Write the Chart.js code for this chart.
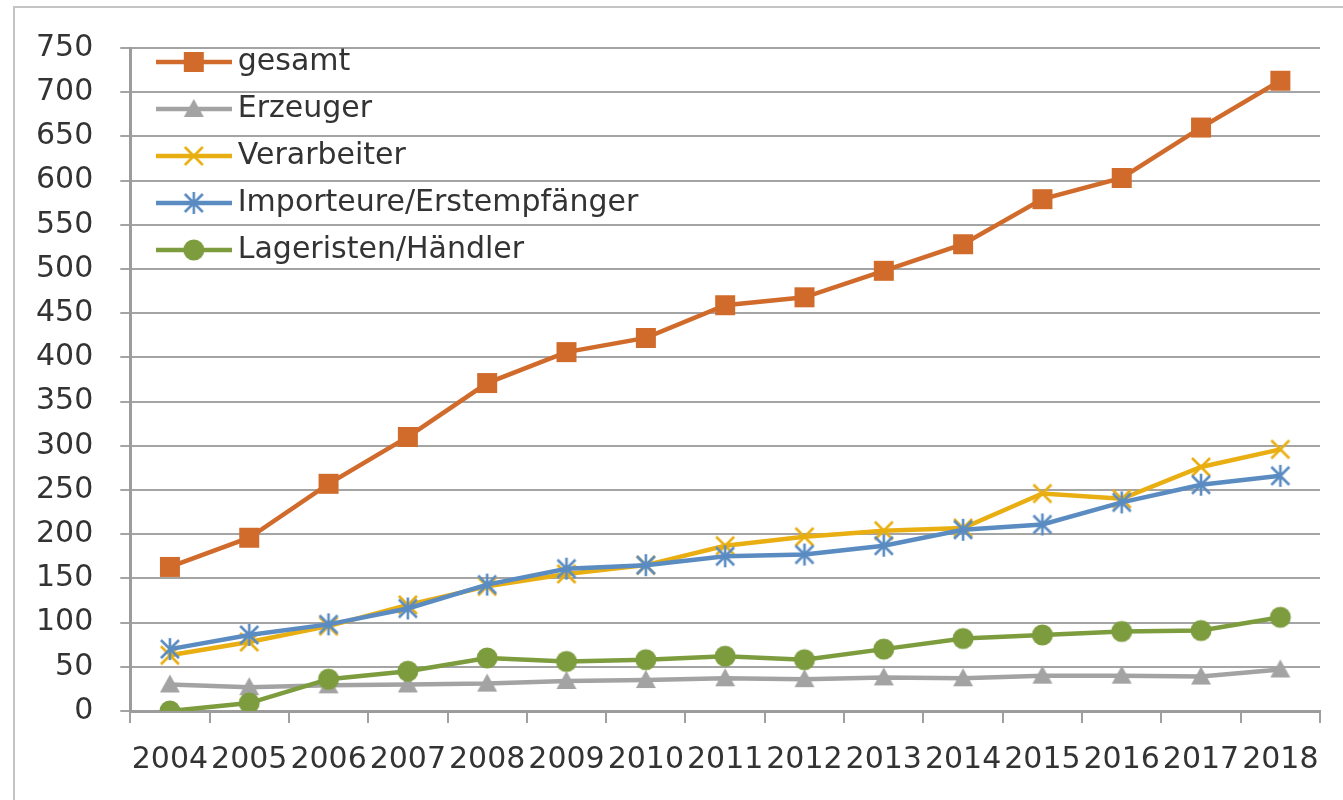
<!DOCTYPE html>
<html>
<head>
<meta charset="utf-8">
<script src="https://cdn.jsdelivr.net/npm/chart.js@4.4.0/dist/chart.umd.min.js"></script>
<style>
  html, body { margin: 0; padding: 0; background: #ffffff; }
  #wrap { position: relative; width: 1343px; height: 800px; }
  #frame { position: absolute; left: 13px; top: 6px; right: 0; bottom: 0;
           border-left: 2px solid #c4c4c4; border-top: 2px solid #c4c4c4; }
  #c { position: absolute; left: 0; top: 0; }
</style>
</head>
<body>
<div id="wrap">
  <div id="frame"></div>
  <canvas id="c" width="1343" height="800"></canvas>
</div>
<script>
// ---- data ----
const years = ['2004','2005','2006','2007','2008','2009','2010','2011','2012','2013','2014','2015','2016','2017','2018'];
const seriesNames = ['gesamt', 'Erzeuger', 'Verarbeiter', 'Importeure/Erstempfänger', 'Lageristen/Händler'];
const gesamt      = [163, 196, 257, 310, 371, 406, 422, 459, 468, 498, 528, 579, 603, 660, 713];
const erzeuger    = [30, 27, 29, 30, 31, 34, 35, 37, 36, 38, 37, 40, 40, 39, 47];
const verarbeiter = [63, 78, 96, 120, 141, 155, 165, 187, 197, 204, 207, 246, 240, 276, 296];
const importeure  = [70, 86, 98, 116, 143, 161, 165, 175, 177, 187, 205, 211, 236, 256, 266];
const lageristen  = [0, 9, 36, 45, 60, 56, 58, 62, 58, 70, 82, 86, 90, 91, 106];
const yMin = 0, yMax = 750, yStep = 50;

// ---- styles ----
const colors  = ['#D06B2C', '#A3A3A3', '#E8AE12', '#5A8CC2', '#7C9C3E'];
const markers = ['square', 'triangle', 'x', 'star', 'circle'];
const FONT = 'DejaVu Sans';
const FS = 30;
const TEXT = '#333333';

function drawMarker(ctx, type, x, y, color) {
  ctx.save();
  ctx.fillStyle = color; ctx.strokeStyle = color;
  ctx.lineCap = 'butt';
  if (type === 'square') {
    ctx.fillRect(x - 10, y - 10, 20, 20);
  } else if (type === 'triangle') {
    ctx.beginPath();
    ctx.moveTo(x, y - 10); ctx.lineTo(x + 10, y + 8); ctx.lineTo(x - 10, y + 8);
    ctx.closePath(); ctx.fill();
  } else if (type === 'circle') {
    ctx.beginPath(); ctx.arc(x, y, 10.5, 0, Math.PI * 2); ctx.fill();
  } else if (type === 'x') {
    ctx.lineWidth = 2.6;
    ctx.beginPath();
    ctx.moveTo(x - 9, y - 9); ctx.lineTo(x + 9, y + 9);
    ctx.moveTo(x + 9, y - 9); ctx.lineTo(x - 9, y + 9);
    ctx.stroke();
  } else if (type === 'star') {
    ctx.lineWidth = 2.6;
    ctx.beginPath();
    ctx.moveTo(x - 9, y - 9); ctx.lineTo(x + 9, y + 9);
    ctx.moveTo(x + 9, y - 9); ctx.lineTo(x - 9, y + 9);
    ctx.moveTo(x, y - 11); ctx.lineTo(x, y + 11);
    ctx.stroke();
  }
  ctx.restore();
}

function markerCanvas(type, color) {
  const c = document.createElement('canvas');
  c.width = 28; c.height = 28;
  drawMarker(c.getContext('2d'), type, 14, 14, color);
  return c;
}
function legendCanvas(type, color) {
  const c = document.createElement('canvas');
  c.width = 76; c.height = 28;
  const ctx = c.getContext('2d');
  ctx.strokeStyle = color; ctx.lineWidth = 4.5;
  ctx.beginPath(); ctx.moveTo(0, 14); ctx.lineTo(76, 14); ctx.stroke();
  drawMarker(ctx, type, 38, 14, color);
  return c;
}

const values = [gesamt, erzeuger, verarbeiter, importeure, lageristen];
const datasets = seriesNames.map((name, i) => ({
  label: name,
  data: values[i],
  borderColor: colors[i],
  backgroundColor: colors[i],
  borderWidth: 4.5,
  pointStyle: markerCanvas(markers[i], colors[i]),
  pointRadius: 10,
  tension: 0,
  fill: false,
  order: seriesNames.length - i
}));
const legendImgs = seriesNames.map((n, i) => legendCanvas(markers[i], colors[i]));

const legendShift = {
  id: 'legendShift',
  afterLayout(chart) {
    const l = chart.legend;
    if (!l) return;
    const dx = 17.5, dy = 30;
    l.left += dx; l.right += dx; l.top += dy; l.bottom += dy;
  }
};

Chart.defaults.font.family = FONT;
Chart.defaults.font.size = FS;
Chart.defaults.color = TEXT;

new Chart(document.getElementById('c'), {
  type: 'line',
  data: { labels: years, datasets },
  plugins: [legendShift],
  options: {
    responsive: false,
    animation: false,
    layout: { padding: { left: 9, right: 23, top: 48, bottom: 3 } },
    plugins: {
      tooltip: { enabled: false },
      legend: {
        position: 'chartArea',
        align: 'start',
        labels: {
          usePointStyle: true,
          pointStyleWidth: 58,
          padding: 17,
          color: TEXT,
          font: { family: FONT, size: FS },
          generateLabels: (chart) => chart.data.datasets.map((ds, i) => ({
            text: ds.label,
            fillStyle: ds.borderColor,
            strokeStyle: ds.borderColor,
            lineWidth: 0,
            pointStyle: legendImgs[i],
            hidden: false,
            datasetIndex: i,
            fontColor: TEXT
          }))
        }
      }
    },
    scales: {
      x: {
        type: 'category',
        offset: true,
        grid: { offset: true, drawOnChartArea: false, drawTicks: true, tickLength: 12, color: '#a0a0a0', lineWidth: 2 },
        border: { display: true, color: '#9c9c9c', width: 3 },
        ticks: { padding: 19, maxRotation: 0, autoSkip: false, color: TEXT, font: { family: FONT, size: FS } }
      },
      y: {
        min: yMin, max: yMax,
        grid: { color: '#a4a4a4', lineWidth: 2, tickLength: 10 },
        border: { display: true, color: '#9c9c9c', width: 3 },
        ticks: { stepSize: yStep, padding: 27, color: TEXT, font: { family: FONT, size: FS } }
      }
    }
  }
});
</script>
</body>
</html>
